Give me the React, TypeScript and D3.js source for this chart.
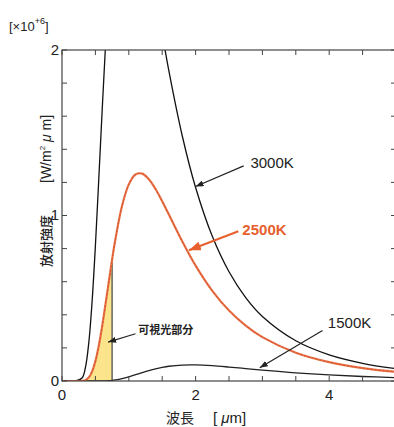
import React from "react";
import * as d3 from "d3";

// wavelength [μm] and spectral emittance [x10^6 W/m² μm]
const wavelength = [0, 0.2, 0.3, 0.35, 0.4, 0.45, 0.5, 0.55, 0.6, 0.65, 0.7, 0.75, 0.8, 0.9, 1.0, 1.1, 1.2, 1.3, 1.4, 1.5, 1.6, 1.8, 2.0, 2.25, 2.5, 2.75, 3.0, 3.5, 4.0, 4.5, 5.0];
const radiance3000 = [0, 0, 0.018, 0.08, 0.227, 0.477, 0.817, 1.214, 1.625, 2.016, 2.357, 2.637, 2.85, 3.088, 3.118, 3.007, 2.815, 2.584, 2.339, 2.1, 1.874, 1.482, 1.169, 0.874, 0.66, 0.504, 0.39, 0.243, 0.158, 0.107, 0.074];
const radiance2500 = [0, 0, 0.001, 0.005, 0.021, 0.057, 0.12, 0.212, 0.328, 0.461, 0.598, 0.734, 0.858, 1.06, 1.188, 1.248, 1.253, 1.219, 1.16, 1.086, 1.006, 0.844, 0.697, 0.545, 0.426, 0.335, 0.265, 0.171, 0.114, 0.078, 0.055];
const radiance1500 = [0, 0, 0, 0, 0, 0, 0, 0.0002, 0.0005, 0.0013, 0.0025, 0.0044, 0.0071, 0.0149, 0.0255, 0.0379, 0.0508, 0.063, 0.0737, 0.0824, 0.0891, 0.0965, 0.0974, 0.0927, 0.0844, 0.075, 0.0656, 0.0491, 0.0365, 0.0273, 0.0206];

const xTicks = [0, 0.5, 1, 1.5, 2, 2.5, 3, 3.5, 4, 4.5, 5];
const xLabels = [0, 2, 4];
const yTicks = [0, 0.2, 0.4, 0.6, 0.8, 1, 1.2, 1.4, 1.6, 1.8, 2];
const yLabels = [0, 1, 2];
const visibleBand = [0.38, 0.75];

const LATIN = "'Liberation Sans', Arial, sans-serif";
const CJK = "'Noto Sans CJK JP', 'Noto Sans', sans-serif";

function drawChart(svg) {
  svg.selectAll("*").remove();

  const x = d3.scaleLinear().domain([0, 5]).range([62, 396]);
  const y = d3.scaleLinear().domain([0, 2]).range([381, 50]);

  const defs = svg.append("defs");
  defs
    .append("clipPath")
    .attr("id", "plot-clip")
    .append("rect")
    .attr("x", x(0))
    .attr("y", y(2))
    .attr("width", x(5) - x(0))
    .attr("height", y(0) - y(2));
  defs
    .append("clipPath")
    .attr("id", "vis-clip")
    .append("rect")
    .attr("x", x(visibleBand[0]))
    .attr("y", y(2))
    .attr("width", x(visibleBand[1]) - x(visibleBand[0]))
    .attr("height", y(0) - y(2));

  const marker = (id, color, len, wid) =>
    defs
      .append("marker")
      .attr("id", id)
      .attr("markerUnits", "userSpaceOnUse")
      .attr("markerWidth", len)
      .attr("markerHeight", wid)
      .attr("refX", len)
      .attr("refY", wid / 2)
      .attr("orient", "auto")
      .append("path")
      .attr("d", `M0,0L${len},${wid / 2}L0,${wid}Z`)
      .attr("fill", color);
  marker("head-black", "#222", 8, 6);
  marker("head-orange", "#e8602e", 12, 9);

  const curve = d3.curveCatmullRom.alpha(0.5);
  const line = (vals) =>
    d3
      .line()
      .x((d, i) => x(wavelength[i]))
      .y((d) => y(Math.max(d, 0)))
      .curve(curve)(vals);

  const area = d3
    .area()
    .x((d, i) => x(wavelength[i]))
    .y0(y(0))
    .y1((d) => y(d))
    .curve(curve);

  const plot = svg.append("g").attr("clip-path", "url(#plot-clip)");

  // visible light part
  plot
    .append("path")
    .datum(radiance2500)
    .attr("d", area)
    .attr("fill", "#fbe48c")
    .attr("clip-path", "url(#vis-clip)");
  const edge = wavelength.indexOf(visibleBand[1]);
  plot
    .append("line")
    .attr("x1", x(visibleBand[1]))
    .attr("x2", x(visibleBand[1]))
    .attr("y1", y(0))
    .attr("y2", y(radiance2500[edge]))
    .attr("stroke", "#6f6f60")
    .attr("stroke-width", 1.6);

  plot
    .append("path")
    .attr("d", line(radiance3000))
    .attr("fill", "none")
    .attr("stroke", "#111")
    .attr("stroke-width", 1.3);
  plot
    .append("path")
    .attr("d", line(radiance1500))
    .attr("fill", "none")
    .attr("stroke", "#222")
    .attr("stroke-width", 1.3);
  plot
    .append("path")
    .attr("d", line(radiance2500))
    .attr("fill", "none")
    .attr("stroke", "#e8744a")
    .attr("stroke-width", 2.2);
  plot
    .append("path")
    .attr("d", line(radiance2500))
    .attr("fill", "none")
    .attr("stroke", "#d9532a")
    .attr("stroke-width", 1)
    .attr("stroke-dasharray", "2.5,1.5");

  // frame and inward ticks
  svg
    .append("rect")
    .attr("x", x(0))
    .attr("y", y(2))
    .attr("width", x(5) - x(0))
    .attr("height", y(0) - y(2))
    .attr("fill", "none")
    .attr("stroke", "#444")
    .attr("stroke-width", 1.2);

  const tk = 5;
  const ticks = svg.append("g").attr("stroke", "#444").attr("stroke-width", 1);
  xTicks.forEach((v) => {
    ticks.append("line").attr("x1", x(v)).attr("x2", x(v)).attr("y1", y(0)).attr("y2", y(0) - tk);
    ticks.append("line").attr("x1", x(v)).attr("x2", x(v)).attr("y1", y(2)).attr("y2", y(2) + tk);
  });
  yTicks.forEach((v) => {
    ticks.append("line").attr("x1", x(0)).attr("x2", x(0) + tk).attr("y1", y(v)).attr("y2", y(v));
    ticks.append("line").attr("x1", x(5)).attr("x2", x(5) - tk).attr("y1", y(v)).attr("y2", y(v));
  });

  svg
    .append("g")
    .selectAll("text")
    .data(xLabels)
    .join("text")
    .attr("x", (d) => x(d))
    .attr("y", 400)
    .attr("text-anchor", "middle")
    .attr("font-family", LATIN)
    .attr("font-size", 15)
    .attr("fill", "#222")
    .text((d) => d);
  svg
    .append("g")
    .selectAll("text")
    .data(yLabels)
    .join("text")
    .attr("x", 59)
    .attr("y", (d) => y(d))
    .attr("dy", "0.33em")
    .attr("text-anchor", "end")
    .attr("font-family", LATIN)
    .attr("font-size", 15)
    .attr("fill", "#222")
    .text((d) => d);

  // unit at the top left
  const unit = svg
    .append("text")
    .attr("x", 9)
    .attr("y", 31)
    .attr("font-family", LATIN)
    .attr("font-size", 13)
    .attr("fill", "#222");
  unit.append("tspan").text("[×10");
  unit.append("tspan").attr("font-size", 9).attr("dy", -7).text("+6");
  unit.append("tspan").attr("dy", 7).text("]");

  // axis titles
  const xt = svg.append("g").attr("fill", "#222").attr("font-size", 14);
  xt.append("text").attr("x", 166).attr("y", 423).attr("font-family", CJK).text("波長");
  const xb = xt.append("text").attr("x", 213).attr("y", 423).attr("font-family", LATIN).attr("font-size", 15);
  xb.append("tspan").text("[ ");
  xb.append("tspan").attr("font-style", "italic").text("μ");
  xb.append("tspan").text("m]");

  const yt = svg.append("g").attr("fill", "#222").attr("font-size", 13);
  yt.append("text")
    .attr("transform", "translate(51,267) rotate(-90)")
    .attr("font-family", CJK)
    .attr("font-weight", 500)
    .text("放射強度");
  const yb = yt
    .append("text")
    .attr("transform", "translate(51,183) rotate(-90)")
    .attr("font-family", LATIN)
    .attr("font-size", 14);
  yb.append("tspan").text("[W/m");
  yb.append("tspan").attr("font-size", 8).attr("dy", -6).text("2");
  yb.append("tspan").attr("dy", 6).text(" ");
  yb.append("tspan").attr("font-style", "italic").text("μ");
  yb.append("tspan").text(" m]");

  // annotations
  const arrow = (x1, y1, x2, y2, color, width, head) =>
    svg
      .append("line")
      .attr("x1", x(x1))
      .attr("y1", y(y1))
      .attr("x2", x(x2))
      .attr("y2", y(y2))
      .attr("stroke", color)
      .attr("stroke-width", width)
      .attr("marker-end", `url(#${head})`);

  arrow(2.72, 1.3, 2.0, 1.175, "#222", 1.2, "head-black");
  svg.append("text").attr("x", x(2.82)).attr("y", y(1.29)).attr("font-family", LATIN).attr("font-size", 15).attr("fill", "#222").text("3000K");

  arrow(2.64, 0.905, 1.9, 0.79, "#e8602e", 2, "head-orange");
  svg.append("text").attr("x", x(2.7)).attr("y", y(0.885)).attr("font-family", LATIN).attr("font-weight", "bold").attr("font-size", 15).attr("fill", "#e8602e").text("2500K");

  arrow(3.9, 0.305, 2.96, 0.08, "#222", 1.2, "head-black");
  svg.append("text").attr("x", x(3.98)).attr("y", y(0.32)).attr("font-family", LATIN).attr("font-size", 15).attr("fill", "#222").text("1500K");

  arrow(1.1, 0.285, 0.69, 0.235, "#222", 1.1, "head-black");
  svg.append("text").attr("x", x(1.14)).attr("y", y(0.285)).attr("font-family", CJK).attr("font-weight", "bold").attr("font-size", 11).attr("fill", "#222").text("可視光部分");

  return svg.node();
}

function PlanckChart() {
  const ref = React.useRef(null);
  React.useEffect(() => {
    drawChart(d3.select(ref.current));
  }, []);
  return (
    <svg
      ref={ref}
      width={394}
      height={427}
      style={{ position: "absolute", left: 0, top: 0, background: "#fff" }}
    />
  );
}

export default function App() {
  return <PlanckChart />;
}
